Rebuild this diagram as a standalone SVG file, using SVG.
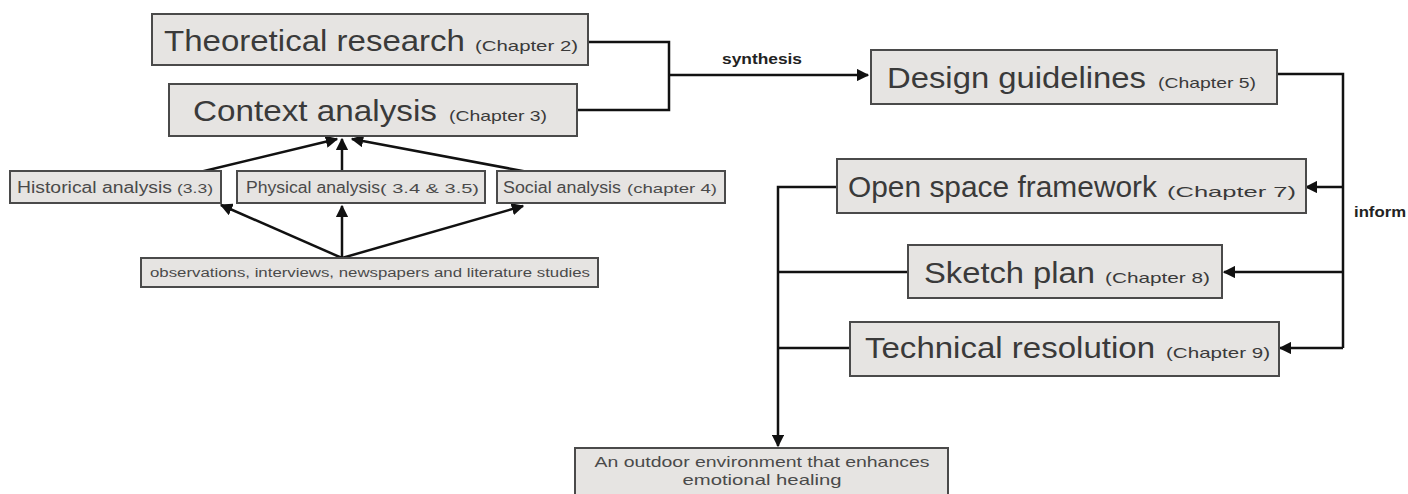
<svg xmlns="http://www.w3.org/2000/svg" width="1408" height="494" viewBox="0 0 1408 494">
<style>
.box{fill:#e6e4e2;stroke:#4a4a4a;stroke-width:2}
.big{font-family:"Liberation Sans",Arial,sans-serif;font-size:30px;fill:#3a3a3a}
.ch{font-family:"Liberation Sans",Arial,sans-serif;font-size:15px;fill:#3a3a3a}
.mid{font-family:"Liberation Sans",Arial,sans-serif;font-size:16px;fill:#4a4a4a}
.sm{font-family:"Liberation Sans",Arial,sans-serif;font-size:13px;fill:#4a4a4a}
.obs{font-family:"Liberation Sans",Arial,sans-serif;font-size:12px;fill:#4a4a4a}
.out{font-family:"Liberation Sans",Arial,sans-serif;font-size:15px;fill:#4a4a4a;text-anchor:middle}
.lbl{font-family:"Liberation Sans",Arial,sans-serif;font-size:15px;font-weight:bold;fill:#222}
.ln{fill:none;stroke:#111;stroke-width:2.5}
</style>
<defs>
<marker id="ah" viewBox="0 0 10 10" refX="9" refY="5" markerWidth="5" markerHeight="5" markerUnits="strokeWidth" orient="auto">
<path d="M0,0 L10,5 L0,10 z" fill="#111"/>
</marker>
</defs>
<rect width="1408" height="494" fill="#fff"/>
<g id="connectors">
<path class="ln" d="M588,42 H669 V110 H577"/>
<path class="ln" d="M669,75 H868" marker-end="url(#ah)"/>
<path class="ln" d="M1277,74 H1343 V348"/>
<path class="ln" d="M1343,187 H1306" marker-end="url(#ah)"/>
<path class="ln" d="M1343,272 H1224" marker-end="url(#ah)"/>
<path class="ln" d="M1343,348 H1280" marker-end="url(#ah)"/>
<path class="ln" d="M837,187 H778 V446" marker-end="url(#ah)"/>
<path class="ln" d="M908,272 H778"/>
<path class="ln" d="M850,348 H778"/>
<path class="ln" d="M200,172 L337,139" marker-end="url(#ah)"/>
<path class="ln" d="M342,172 V139" marker-end="url(#ah)"/>
<path class="ln" d="M528,172 L352,139" marker-end="url(#ah)"/>
<path class="ln" d="M342,258 L221,205" marker-end="url(#ah)"/>
<path class="ln" d="M342,258 V206" marker-end="url(#ah)"/>
<path class="ln" d="M342,258 L523,206" marker-end="url(#ah)"/>
<text class="lbl" x="722" y="64" textLength="80" lengthAdjust="spacingAndGlyphs">synthesis</text>
<text class="lbl" x="1354" y="217" textLength="52" lengthAdjust="spacingAndGlyphs">inform</text>
</g>
<g id="theoretical">
<rect class="box" x="152" y="14" width="436" height="51"/>
<text class="big" x="164" y="51" textLength="301" lengthAdjust="spacingAndGlyphs">Theoretical research</text>
<text class="ch" x="475" y="51" textLength="103" lengthAdjust="spacingAndGlyphs">(Chapter 2)</text>
</g>
<g id="context">
<rect class="box" x="169" y="84" width="408" height="52"/>
<text class="big" x="193" y="121" textLength="244" lengthAdjust="spacingAndGlyphs">Context analysis</text>
<text class="ch" x="449" y="121" textLength="98" lengthAdjust="spacingAndGlyphs">(Chapter 3)</text>
</g>
<g id="historical">
<rect class="box" x="10" y="171" width="211" height="32"/>
<text class="mid" x="17" y="193" textLength="155" lengthAdjust="spacingAndGlyphs">Historical analysis</text>
<text class="sm" x="177" y="193" textLength="36" lengthAdjust="spacingAndGlyphs">(3.3)</text>
</g>
<g id="physical">
<rect class="box" x="237" y="171" width="248" height="32"/>
<text class="mid" x="246" y="193" textLength="134" lengthAdjust="spacingAndGlyphs">Physical analysis</text>
<text class="sm" x="380" y="193" textLength="99" lengthAdjust="spacingAndGlyphs">( 3.4 &amp; 3.5)</text>
</g>
<g id="social">
<rect class="box" x="497" y="171" width="228" height="32"/>
<text class="mid" x="503" y="193" textLength="118" lengthAdjust="spacingAndGlyphs">Social analysis</text>
<text class="sm" x="627" y="193" textLength="90" lengthAdjust="spacingAndGlyphs">(chapter 4)</text>
</g>
<g id="observations">
<rect class="box" x="141" y="258" width="457" height="29"/>
<text class="obs" x="150" y="277" textLength="440" lengthAdjust="spacingAndGlyphs">observations, interviews, newspapers and literature studies</text>
</g>
<g id="design">
<rect class="box" x="871" y="50" width="406" height="54"/>
<text class="big" x="887" y="88" textLength="259" lengthAdjust="spacingAndGlyphs">Design guidelines</text>
<text class="ch" x="1158" y="88" textLength="98" lengthAdjust="spacingAndGlyphs">(Chapter 5)</text>
</g>
<g id="openspace">
<rect class="box" x="837" y="159" width="469" height="54"/>
<text class="big" x="848" y="197" textLength="309" lengthAdjust="spacingAndGlyphs">Open space framework</text>
<text class="ch" x="1167" y="197" textLength="129" lengthAdjust="spacingAndGlyphs">(Chapter 7)</text>
</g>
<g id="sketch">
<rect class="box" x="908" y="245" width="314" height="53"/>
<text class="big" x="924" y="283" textLength="171" lengthAdjust="spacingAndGlyphs">Sketch plan</text>
<text class="ch" x="1105" y="283" textLength="105" lengthAdjust="spacingAndGlyphs">(Chapter 8)</text>
</g>
<g id="technical">
<rect class="box" x="850" y="322" width="429" height="54"/>
<text class="big" x="865" y="358" textLength="290" lengthAdjust="spacingAndGlyphs">Technical resolution</text>
<text class="ch" x="1166" y="358" textLength="104" lengthAdjust="spacingAndGlyphs">(Chapter 9)</text>
</g>
<g id="outcome">
<rect class="box" x="575" y="448" width="373" height="50"/>
<text class="out" x="762" y="467" textLength="335" lengthAdjust="spacingAndGlyphs">An outdoor environment that enhances</text>
<text class="out" x="762" y="485" textLength="159" lengthAdjust="spacingAndGlyphs">emotional healing</text>
</g>
</svg>
